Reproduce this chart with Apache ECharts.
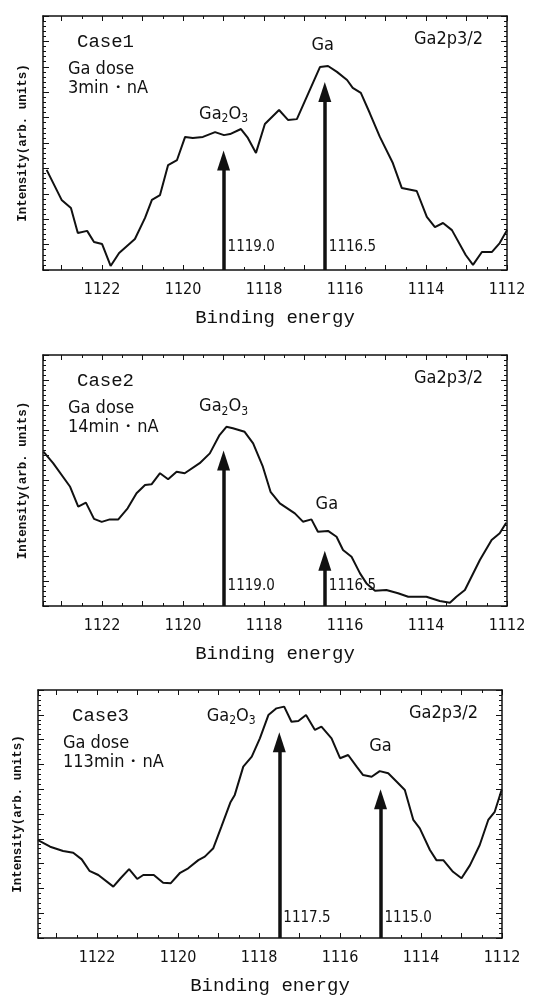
<!DOCTYPE html>
<html>
<head>
<meta charset="utf-8">
<script src="https://cdn.jsdelivr.net/npm/echarts@6/dist/echarts.min.js"></script>
<style>html,body{margin:0;padding:0;background:#fff}#chart{width:549px;height:996px}</style>
</head>
<body>
<div id="chart"></div>
<script>
// binding energy (eV) and intensity (arb.)
const energy1 = [1123.37,1123.00,1122.77,1122.60,1122.37,1122.20,1122.00,1121.79,1121.58,1121.19,1120.94,1120.77,1120.57,1120.37,1120.15,1119.95,1119.76,1119.51,1119.21,1118.99,1118.84,1118.57,1118.40,1118.20,1117.98,1117.63,1117.41,1117.19,1116.62,1116.42,1116.20,1115.95,1115.81,1115.61,1115.39,1115.14,1114.82,1114.60,1114.23,1113.98,1113.78,1113.58,1113.36,1113.02,1112.84,1112.62,1112.37,1112.18,1112.00]
const intensity1 = [39.4,27.6,24.4,14.6,15.4,11.0,10.2,1.6,6.7,12.2,20.5,27.6,29.5,41.3,43.3,52.4,52.0,52.4,54.3,53.1,53.5,55.5,52.0,46.1,57.5,63.0,59.1,59.4,79.9,80.3,78.0,74.8,71.7,69.7,61.8,52.4,42.1,32.3,31.1,20.9,16.9,18.5,15.7,5.9,2.0,7.1,7.1,10.6,15.7]

const energy2 = [1123.45,1123.21,1122.79,1122.59,1122.40,1122.20,1122.01,1121.81,1121.60,1121.37,1121.15,1120.94,1120.78,1120.57,1120.37,1120.16,1119.96,1119.59,1119.34,1119.10,1118.93,1118.77,1118.48,1118.27,1118.03,1117.84,1117.61,1117.24,1117.04,1116.83,1116.67,1116.42,1116.21,1116.05,1115.84,1115.63,1115.47,1115.26,1114.98,1114.69,1114.44,1113.99,1113.66,1113.41,1113.25,1113.04,1112.67,1112.38,1112.18,1112.02]
const intensity2 = [61.5,56.9,47.5,39.6,41.2,34.7,33.5,34.5,34.5,38.9,44.9,48.2,48.5,52.9,50.5,53.5,52.9,56.9,60.8,68.1,71.4,70.8,69.4,64.8,55.5,45.5,40.9,36.9,33.6,34.5,29.6,29.9,27.6,22.3,19.6,13.0,9.0,6.1,6.4,5.1,3.7,3.7,2.0,1.3,3.7,6.4,18.3,26.3,29.0,33.2]

const energy3 = [1123.46,1123.16,1122.84,1122.59,1122.38,1122.19,1121.97,1121.60,1121.42,1121.21,1121.01,1120.86,1120.60,1120.37,1120.18,1119.95,1119.75,1119.50,1119.34,1119.13,1118.93,1118.71,1118.60,1118.39,1118.18,1117.98,1117.77,1117.57,1117.38,1117.20,1117.03,1116.84,1116.62,1116.46,1116.21,1116.00,1115.80,1115.59,1115.43,1115.22,1115.02,1114.81,1114.60,1114.40,1114.19,1114.03,1113.78,1113.62,1113.45,1113.21,1113.00,1112.79,1112.55,1112.34,1112.18,1112.01]
const intensity3 = [39.5,36.8,35.1,34.4,31.7,27.1,25.4,20.7,24.1,27.8,23.8,25.4,25.4,22.3,22.1,26.3,28.1,31.4,32.8,36.2,44.9,54.6,57.7,69.1,73.1,80.5,89.9,92.6,93.3,87.2,87.5,89.9,83.9,85.2,80.5,72.5,73.8,69.1,65.7,65.0,67.3,66.4,63.0,59.7,47.6,44.2,35.5,31.4,31.4,26.7,24.1,29.4,37.5,47.6,50.9,59.7]

// arrows: peak position and height of the arrow tip
const peakNames = ['Ga2O3', 'Ga']
const peakPos1 = [1119.0, 1116.5]
const peakTop1 = [47, 74]
const peakPos2 = [1119.0, 1116.5]
const peakTop2 = [62, 22]
const peakPos3 = [1117.5, 1115.0]
const peakTop3 = [83, 60]

const caseNames = ['Case1', 'Case2', 'Case3']
const doses = ['3min・nA', '14min・nA', '113min・nA']

const MONO = '"Liberation Mono","DejaVu Sans Mono",monospace'
const NARROW = '"Liberation Sans Narrow","DejaVu Sans Condensed","Liberation Sans",sans-serif'
const INK = '#111'
const HEAD = [13, 20] // arrowhead width, length (px)

const panels = [
  {grid: {left: 43, top: 16, width: 464, height: 254}, e: energy1, v: intensity1, pos: peakPos1, top: peakTop1,
   nameAt: [[1119.0, 61], [1116.55, 88]], numY: 9},
  {grid: {left: 43, top: 355, width: 464, height: 251}, e: energy2, v: intensity2, pos: peakPos2, top: peakTop2,
   nameAt: [[1119.0, 79], [1116.45, 40]], numY: 8},
  {grid: {left: 38, top: 690, width: 464, height: 248}, e: energy3, v: intensity3, pos: peakPos3, top: peakTop3,
   nameAt: [[1118.69, 89], [1115.0, 77]], numY: 8}
]

const rich = {
  n: {fontFamily: NARROW, fontSize: 18, color: INK, lineHeight: 20, verticalAlign: 'top'},
  s: {fontFamily: NARROW, fontSize: 12, color: INK, lineHeight: 12, padding: [12, 0, 0, 0], verticalAlign: 'bottom'}
}
function peakLabel(name) {
  return name === 'Ga2O3' ? '{n|Ga}{s|2}{n|O}{s|3}' : '{n|' + name + '}'
}

const xAxis = []
const yAxis = []
const series = []
const graphic = []

panels.forEach((p, i) => {
  const line = {show: true, onZero: false, lineStyle: {color: INK, width: 1.5}}
  const tick = {show: true, inside: true, length: 5, lineStyle: {color: INK, width: 1}}
  xAxis.push({
    type: 'value', gridIndex: i, inverse: true, min: 1112, max: 1123.46, interval: 1, position: 'bottom',
    name: 'Binding energy', nameLocation: 'middle', nameGap: 38,
    nameTextStyle: {fontFamily: MONO, fontSize: 19, color: INK},
    axisLine: line, axisTick: tick,
    minorTick: {show: true, splitNumber: 2, length: 3, lineStyle: {color: INK}},
    splitLine: {show: false},
    axisLabel: {fontFamily: NARROW, fontSize: 16, color: INK, margin: 12, showMaxLabel: false,
      formatter: v => (v % 2 === 0 ? String(v) : '')}
  })
  xAxis.push({
    type: 'value', gridIndex: i, inverse: true, min: 1112, max: 1123.46, interval: 1, position: 'top',
    axisLine: line, axisTick: tick,
    minorTick: {show: true, splitNumber: 2, length: 3, lineStyle: {color: INK}},
    splitLine: {show: false}, axisLabel: {show: false}
  })
  ;['left', 'right'].forEach(side => {
    yAxis.push({
      type: 'value', gridIndex: i, min: 0, max: 100, interval: 10, position: side,
      name: side === 'left' ? 'Intensity(arb. units)' : '', nameLocation: 'middle', nameGap: 14,
      nameRotate: 90,
      nameTextStyle: {fontFamily: MONO, fontSize: 12.5, fontWeight: 'bold', color: INK},
      axisLine: line, axisTick: {show: true, inside: true, length: 6, lineStyle: {color: INK}},
      minorTick: {show: true, splitNumber: 5, length: 3, lineStyle: {color: INK}},
      splitLine: {show: false}, axisLabel: {show: false}
    })
  })

  // the end symbol is centred on the line end, so pull it back by half its length
  const back = HEAD[1] / 2 / p.grid.height * 100
  series.push({
    type: 'line', xAxisIndex: 2 * i, yAxisIndex: 2 * i, data: p.e.map((x, k) => [x, p.v[k]]),
    showSymbol: false, symbol: 'none', lineStyle: {color: INK, width: 2}, animation: false,
    markLine: {
      silent: true, animation: false, symbol: ['none', 'triangle'], symbolSize: HEAD,
      label: {show: false}, lineStyle: {color: INK, width: 3.5, type: 'solid'},
      data: p.pos.map((x, k) => [{coord: [x, 0]}, {coord: [x, p.top[k] - back]}])
    },
    markPoint: {
      silent: true, animation: false, symbol: 'circle', symbolSize: 0,
      data: p.pos.map((x, k) => ({
        coord: [x, p.numY],
        label: {show: true, position: 'right', distance: 4, formatter: x.toFixed(1),
          fontFamily: NARROW, fontSize: 15, color: INK}
      })).concat(peakNames.map((nm, k) => ({
        coord: p.nameAt[k],
        label: {show: true, position: 'inside', formatter: peakLabel(nm), rich: rich}
      })))
    }
  })

  const g = p.grid
  graphic.push(
    {type: 'text', x: g.left + 34, y: g.top + 26, style: {text: caseNames[i], fontFamily: MONO, fontSize: 19, fill: INK, verticalAlign: 'middle'}},
    {type: 'text', x: g.left + 25, y: g.top + 53, style: {text: 'Ga dose', fontFamily: NARROW, fontSize: 18, fill: INK, verticalAlign: 'middle'}},
    {type: 'text', x: g.left + 25, y: g.top + 72, style: {text: doses[i], fontFamily: NARROW, fontSize: 18, fill: INK, verticalAlign: 'middle'}},
    {type: 'text', x: g.left + 371, y: g.top + 23, style: {text: 'Ga2p3/2', fontFamily: NARROW, fontSize: 18, fill: INK, verticalAlign: 'middle'}}
  )
})

const chart = echarts.init(document.getElementById('chart'), null, {renderer: 'canvas'})
chart.setOption({
  backgroundColor: '#fff',
  animation: false,
  grid: panels.map(p => p.grid),
  xAxis: xAxis,
  yAxis: yAxis,
  series: series,
  graphic: graphic
})
window.onresize = function () {
  chart.resize()
}
</script>
</body>
</html>
